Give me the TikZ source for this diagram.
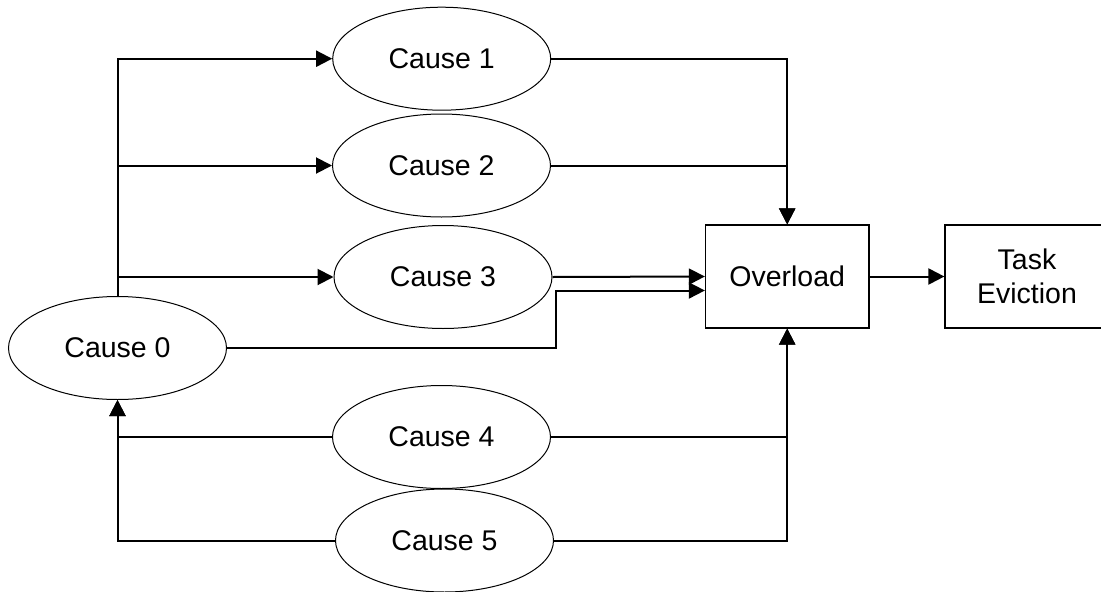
\documentclass[tikz,border=0pt]{standalone}
\usepackage{fontspec}
\setmainfont{Liberation Sans}
\usetikzlibrary{shapes.geometric,arrows.meta,calc}
\begin{document}
\begin{tikzpicture}[x=1pt,y=-1pt,
  cause/.style={ellipse,draw,line width=1pt,minimum width=218pt,minimum height=103pt,inner sep=0pt,font=\fontsize{28.5}{34}\selectfont},
  boxnode/.style={rectangle,draw,line width=1.2pt,minimum width=163.5pt,minimum height=103pt,inner sep=0pt,align=center,font=\fontsize{28.5}{34}\selectfont},
  conn/.style={line width=2pt},
  arr/.style={conn,-{Triangle[length=16pt,width=16pt]}}]
\useasboundingbox (0,0) rectangle (1101,592);
\node[cause] (c1) at (441.7,58.7) {Cause 1};
\node[cause] (c2) at (441.5,165.5) {Cause 2};
\node[cause] (c3) at (443,277) {Cause 3};
\node[cause] (c0) at (117.5,348) {Cause 0};
\node[cause] (c4) at (441.5,437) {Cause 4};
\node[cause] (c5) at (444.5,540.5) {Cause 5};
\node[boxnode] (ov) at (787.2,276.5) {Overload};
\node[boxnode,minimum width=180pt] (te) at (1035,276.5) {\hspace*{-16pt}Task\\\hspace*{-16pt}Eviction};
\coordinate (j) at ($(ov.west)+(0,14)$);
\coordinate (k) at (555.5,290.5);
% from Cause 0 to Causes 1-3
\draw[arr] (c0.north) |- (c1.west);
\draw[arr] (c0.north) |- (c2.west);
\draw[arr] (c0.north) |- (c3.west);
% into Overload
\draw[arr] (c1.east) -| (ov.north);
\draw[arr] (c2.east) -| (ov.north);
\draw[arr] (c3.east) -- (ov.west);
\draw[arr] (c0.east) -| (k) -- (j);
\draw[arr] (c4.east) -| (ov.south);
\draw[arr] (c5.east) -| (ov.south);
% Causes 4,5 to Cause 0
\draw[arr] (c4.west) -| (c0.south);
\draw[arr] (c5.west) -| (c0.south);
% Overload to Task Eviction
\draw[arr] (ov.east) -- (te.west);
\end{tikzpicture}
\end{document}
